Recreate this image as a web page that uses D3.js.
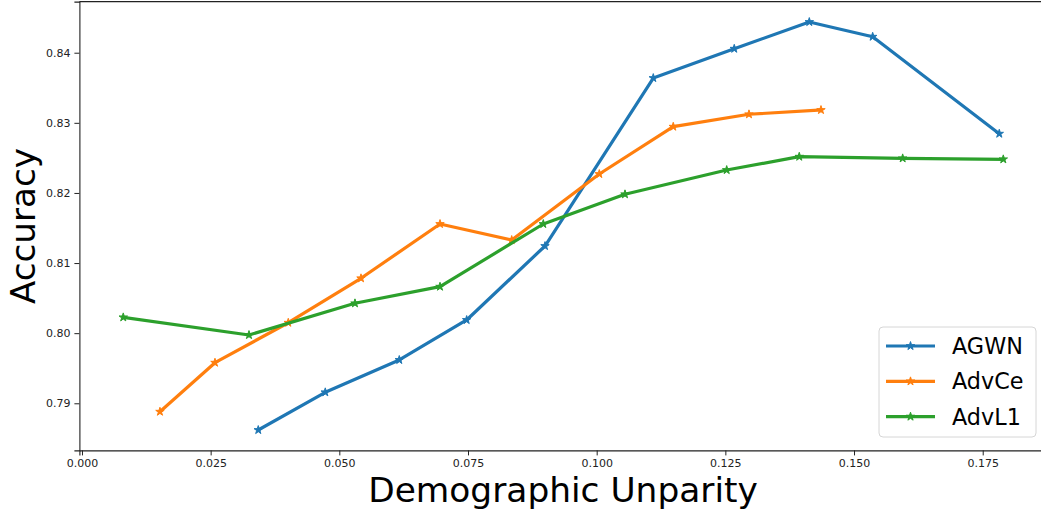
<!DOCTYPE html>
<html>
<head>
<meta charset="utf-8">
<script src="https://cdn.jsdelivr.net/npm/d3@7"></script>
<style>
  html, body { margin: 0; padding: 0; background: #fff; }
  svg { display: block; font-family: "DejaVu Sans", sans-serif; }
</style>
</head>
<body>
<svg id="chart" width="1041" height="510"></svg>
<script>
// Demographic unparity (x) vs accuracy (y) for three methods
const agwnX  = [0.03425, 0.04727, 0.06165, 0.07474, 0.08996, 0.11100, 0.12673, 0.14131, 0.15362, 0.17822];
const agwnY  = [0.78619, 0.79157, 0.79618, 0.80188, 0.81243, 0.83639, 0.84057, 0.84438, 0.84228, 0.82845];
const advCeX = [0.01515, 0.02584, 0.04008, 0.05421, 0.06956, 0.08349, 0.10051, 0.11488, 0.12959, 0.14358];
const advCeY = [0.78880, 0.79579, 0.80149, 0.80783, 0.81557, 0.81329, 0.82270, 0.82945, 0.83122, 0.83183];
const advL1X = [0.00802, 0.03245, 0.05304, 0.06956, 0.08963, 0.10550, 0.12526, 0.13936, 0.15945, 0.17900];
const advL1Y = [0.80226, 0.79974, 0.80426, 0.80663, 0.81557, 0.81981, 0.82327, 0.82517, 0.82494, 0.82480];

const seriesNames = ["AGWN", "AdvCe", "AdvL1"];
const seriesColors = ["#1f77b4", "#ff7f0e", "#2ca02c"];
const xTicks = [0.000, 0.025, 0.050, 0.075, 0.100, 0.125, 0.150, 0.175];
const yTicks = [0.79, 0.80, 0.81, 0.82, 0.83, 0.84];

const series = [
  { name: seriesNames[0], color: seriesColors[0], pts: agwnX.map((x, i) => [x, agwnY[i]]) },
  { name: seriesNames[1], color: seriesColors[1], pts: advCeX.map((x, i) => [x, advCeY[i]]) },
  { name: seriesNames[2], color: seriesColors[2], pts: advL1X.map((x, i) => [x, advL1Y[i]]) }
];

const svg = d3.select("#chart");
const plot = { left: 79.4, right: 1047.3, top: 1.6, bottom: 450.4 };

const x = d3.scaleLinear().domain([-0.0005, 0.18755]).range([plot.left, plot.right]);
const y = d3.scaleLinear().domain([0.78328, 0.84729]).range([plot.bottom, plot.top]);

// Axes
const xAxis = d3.axisBottom(x).tickValues(xTicks).tickFormat(d3.format(".3f")).tickSize(5).tickPadding(4);
const yAxis = d3.axisLeft(y).tickValues(yTicks).tickFormat(d3.format(".2f")).tickSize(5).tickPadding(4);

const gx = svg.append("g").attr("transform", `translate(0,${plot.bottom})`).call(xAxis);
const gy = svg.append("g").attr("transform", `translate(${plot.left},0)`).call(yAxis);
[gx, gy].forEach(g => {
  g.select(".domain").attr("stroke", "#222").attr("stroke-width", 1.1);
  g.selectAll(".tick line").attr("stroke", "#222").attr("stroke-width", 1);
  g.selectAll(".tick text").attr("fill", "#222").style("font-size", "11px").style("font-family", "DejaVu Sans, sans-serif");
});

// Top and right frame lines
svg.append("line").attr("x1", plot.left).attr("x2", plot.right).attr("y1", plot.top).attr("y2", plot.top)
  .attr("stroke", "#222").attr("stroke-width", 1.1);
svg.append("line").attr("x1", plot.right).attr("x2", plot.right).attr("y1", plot.top).attr("y2", plot.bottom)
  .attr("stroke", "#222").attr("stroke-width", 1.1);

// Lines with star markers
const line = d3.line().x(d => x(d[0])).y(d => y(d[1]));
const star = d3.symbol().type(d3.symbolStar).size(22);

series.forEach(s => {
  svg.append("path").datum(s.pts).attr("d", line)
    .attr("fill", "none").attr("stroke", s.color).attr("stroke-width", 3.2)
    .attr("stroke-linejoin", "round").attr("stroke-linecap", "square");
  svg.append("g").selectAll("path").data(s.pts).join("path")
    .attr("d", star).attr("transform", d => `translate(${x(d[0])},${y(d[1])})`)
    .attr("fill", s.color).attr("stroke", s.color).attr("stroke-width", 1);
});

// Axis labels
svg.append("text").attr("x", 563).attr("y", 502).attr("text-anchor", "middle")
  .style("font-size", "34.4px").attr("fill", "#000").text("Demographic Unparity");
svg.append("text").attr("transform", "translate(35,226) rotate(-90)").attr("text-anchor", "middle")
  .style("font-size", "34.2px").attr("fill", "#000").text("Accuracy");

// Legend
const lg = svg.append("g").attr("transform", "translate(879,327)");
lg.append("rect").attr("width", 157).attr("height", 110).attr("rx", 4).attr("ry", 4)
  .attr("fill", "#fff").attr("fill-opacity", 0.8).attr("stroke", "#d6d6d6").attr("stroke-width", 1);
series.forEach((s, i) => {
  const yy = 19 + i * 35.3;
  lg.append("line").attr("x1", 7).attr("x2", 56).attr("y1", yy).attr("y2", yy)
    .attr("stroke", s.color).attr("stroke-width", 3.2);
  lg.append("path").attr("d", star).attr("transform", `translate(31.5,${yy})`)
    .attr("fill", s.color).attr("stroke", s.color).attr("stroke-width", 1);
  lg.append("text").attr("x", 73).attr("y", yy + 8).style("font-size", "22.3px").attr("fill", "#000").text(s.name);
});
</script>
</body>
</html>
